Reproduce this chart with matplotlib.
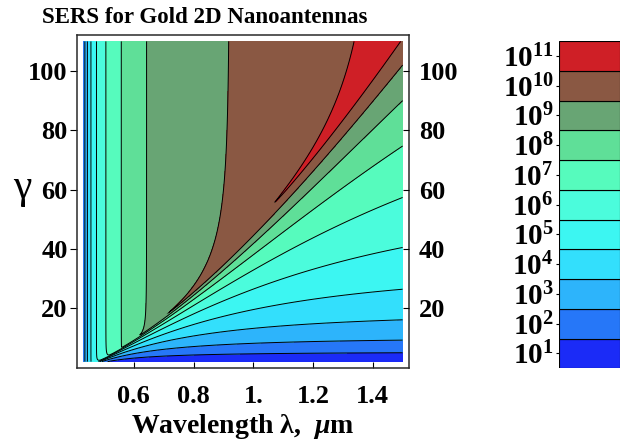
import numpy as np
import matplotlib.pyplot as plt

plt.rcParams['font.family'] = ['Liberation Serif', 'DejaVu Serif']
plt.rcParams['font.weight'] = 'bold'
plt.rcParams['mathtext.fontset'] = 'custom'
plt.rcParams['mathtext.rm'] = 'Liberation Serif:bold'
plt.rcParams['mathtext.bf'] = 'Liberation Serif:bold'
plt.rcParams['mathtext.it'] = 'Liberation Serif:bold:italic'

# Plot range
lam_range = [0.43, 1.5]       # wavelength, um
gamma_range = [2.0, 110.0]    # antenna aspect ratio

# Gold permittivity (Drude-type fit) and antenna model parameters
eps_inf = 11.55
lam_p = 0.1306          # plasma wavelength, um
eps2_ref = 0.548        # Im(eps) at lam_ref
lam_ref = 0.71
eps2_power_short = 3.0
eps2_power_long = 4.59
eps2_curv = -1.41
ib_amp = 0.175          # interband absorption tail
ib_edge = 0.43
ib_width = 0.015
tip_factor = 0.62
tip_shift = 2.5
blend_rate = 3.4
sers_norm = 10 ** 1.68

# Legend / contour bands
legend_powers = list(range(1, 12))
band_colors = ['#1b2bf7', '#2677f8', '#2db4fb', '#33dffc', '#3cf6f2', '#4bfcdc',
               '#56fbbd', '#5fdf98', '#68a574', '#8a5843', '#cf1f26']

x_ticks = [0.6, 0.8, 1.0, 1.2, 1.4]
x_tick_labels = ['0.6', '0.8', '1.', '1.2', '1.4']
y_ticks = [20, 40, 60, 80, 100]

# SERS enhancement field
lam = np.linspace(lam_range[0], lam_range[1], 700)
gam = np.linspace(gamma_range[0], gamma_range[1], 900)
LAM, GAM = np.meshgrid(lam, gam)

s = (LAM / lam_p) ** 2 - eps_inf          # -Re(eps)
ln_r = np.log(LAM / lam_ref)
expo = np.where(ln_r < 0, eps2_power_short, eps2_power_long + eps2_curv * ln_r)
eps2 = eps2_ref * np.exp(expo * ln_r) + ib_amp * np.exp(-(LAM - ib_edge) / ib_width)
abs_eps = np.hypot(s, eps2)

f_below = (1 + GAM) * abs_eps / np.hypot(s - GAM, eps2)
f_ridge = np.clip(1 + s, 0.1, None) * abs_eps / eps2
f_top = tip_factor * (s + tip_shift) ** 2 / eps2
s_pos = np.maximum(s, 0.05)
x_over = np.clip((GAM - s_pos) / s_pos, 0, None)
logf_above = np.log10(f_top) + (np.log10(f_ridge) - np.log10(f_top)) * np.exp(-blend_rate * np.sqrt(x_over))
logf = np.where(GAM < s, np.log10(f_below), logf_above)
log_sers = 4 * logf - np.log10(sers_norm)

levels = [-50] + [p + 0.5 for p in legend_powers[:-1]] + [50]

fig = plt.figure(figsize=(6.2, 4.45), dpi=100)
ax = fig.add_axes([76.7 / 620, 1 - 368 / 445, 332.3 / 620, 333 / 445])

ax.contourf(LAM, GAM, log_sers, levels=levels, colors=band_colors)
ax.contour(LAM, GAM, log_sers, levels=levels[1:-1], colors='black', linewidths=0.7)

pad_x = 0.02 * (lam_range[1] - lam_range[0])
pad_y = 0.02 * (gamma_range[1] - gamma_range[0])
ax.set_xlim(lam_range[0] - pad_x, lam_range[1] + pad_x)
ax.set_ylim(gamma_range[0] - pad_y, gamma_range[1] + pad_y)

for sp in ax.spines.values():
    sp.set_color('#2a2a2a')
    sp.set_linewidth(1.1)

ax.set_xticks(x_ticks)
ax.set_xticklabels(x_tick_labels)
ax.tick_params(axis='x', direction='in', length=4, width=0.8, labelsize=19, pad=12, top=False)
ax.set_yticks(y_ticks)
ax.tick_params(axis='y', direction='out', length=5, width=0.8, labelsize=19, pad=1.5)

ax_r = ax.twinx()
ax_r.set_ylim(ax.get_ylim())
ax_r.set_yticks(y_ticks)
ax_r.tick_params(axis='y', direction='in', length=4, width=0.8, labelsize=19, pad=7)
for sp in ax_r.spines.values():
    sp.set_visible(False)

ax.set_xlabel(r'Wavelength λ,  $\mu$m', fontsize=20, fontweight='bold', labelpad=3)
fig.text(22 / 620, 1 - 188 / 445, 'γ', fontsize=30, fontweight='normal', ha='center', va='center')
fig.text(205 / 620, 1 - 23.3 / 445, 'SERS for Gold 2D Nanoantennas', fontsize=16.5,
         fontweight='bold', ha='center', va='baseline')

# Legend bar
cax = fig.add_axes([559 / 620, 1 - 368.3 / 445, 61 / 620, 327.3 / 445])
cax.barh(legend_powers, 1, height=1, color=band_colors, edgecolor='black', linewidth=0.8)
cax.set_ylim(0.5, 11.5)
cax.set_xlim(0, 1)
cax.set_xticks([])
cax.set_yticks(legend_powers)
cax.set_yticklabels([r'$\mathbf{10^{%d}}$' % p for p in legend_powers])
cax.tick_params(axis='y', length=2, width=0.8, labelsize=21, pad=2)
for sp in cax.spines.values():
    sp.set_visible(False)

fig.savefig('out.png', dpi=100)
